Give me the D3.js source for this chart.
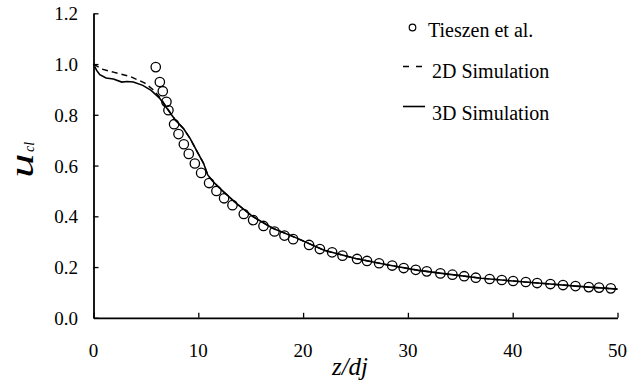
<!DOCTYPE html>
<html>
<head>
<meta charset="utf-8">
<script src="https://cdn.jsdelivr.net/npm/d3@7"></script>
<style>
  html, body { margin: 0; padding: 0; background: #fff; }
  #chart text { font-family: 'Liberation Serif', Tinos, 'Times New Roman', Times, FreeSerif, serif !important; }
</style>
</head>
<body>
<svg id="chart" width="630" height="387"></svg>
<script>
// Experimental data (Tieszen et al.)
const expZ = [5.94, 6.33, 6.61, 6.96, 7.15, 7.69, 8.11, 8.62, 9.09, 9.67, 10.27, 11.03, 11.73, 12.46, 13.26,
  14.34, 15.23, 16.22, 17.27, 18.22, 19.05, 20.57, 21.6, 22.77, 23.76, 25.15, 26.1, 27.25, 28.5, 29.6,
  30.75, 31.8, 33.1, 34.25, 35.37, 36.48, 37.8, 38.96, 40.04, 41.25, 42.33, 43.6, 44.8, 45.99, 47.26, 48.24, 49.36];
const expU = [0.988, 0.929, 0.893, 0.851, 0.818, 0.763, 0.724, 0.684, 0.646, 0.608, 0.571, 0.531, 0.500, 0.471, 0.444,
  0.409, 0.385, 0.362, 0.340, 0.324, 0.310, 0.287, 0.271, 0.258, 0.245, 0.232, 0.224, 0.215, 0.206, 0.196,
  0.189, 0.183, 0.175, 0.170, 0.164, 0.158, 0.153, 0.149, 0.145, 0.141, 0.137, 0.133, 0.129, 0.125, 0.121, 0.119, 0.116];

// 2D simulation
const sim2dZ = [0, 0.8, 1.9, 3.5, 4.9, 5.7, 6.4, 7.0, 7.8, 8.6, 9.2, 9.8, 10.5, 10.9, 11.4, 12.4, 13.6, 15.2, 17.1, 19.4,
  22, 25, 28, 31, 34, 37, 40, 43, 46, 50];
const sim2dU = [1.0, 0.980, 0.968, 0.951, 0.925, 0.899, 0.866, 0.828, 0.780, 0.745, 0.708, 0.662, 0.609, 0.563, 0.537,
  0.497, 0.452, 0.399, 0.353, 0.314, 0.266, 0.234, 0.209, 0.187, 0.171, 0.156, 0.145, 0.135, 0.125, 0.113];

// 3D simulation
const sim3dZ = [0, 0.3, 0.6, 1.2, 1.9, 2.7, 3.2, 3.8, 4.7, 5.5, 6.3, 7.0, 7.8, 8.6, 9.2, 9.8, 10.5, 10.9, 11.4, 12.4,
  13.6, 15.2, 17.1, 19.4, 22, 25, 28, 31, 34, 37, 40, 43, 46, 50];
const sim3dU = [1.0, 0.975, 0.958, 0.945, 0.941, 0.929, 0.931, 0.929, 0.916, 0.896, 0.866, 0.826, 0.780, 0.745, 0.708,
  0.662, 0.609, 0.563, 0.537, 0.497, 0.452, 0.399, 0.353, 0.314, 0.266, 0.234, 0.209, 0.187, 0.171, 0.156, 0.145,
  0.135, 0.125, 0.113];

const xTicks = [0, 10, 20, 30, 40, 50];
const yTicks = [0, 0.2, 0.4, 0.6, 0.8, 1.0, 1.2];

const svg = d3.select('#chart');
svg.append('rect').attr('width', 630).attr('height', 387).attr('fill', '#fff');

const x = d3.scaleLinear().domain([0, 50]).range([93.5, 617.5]);
const y = d3.scaleLinear().domain([0, 1.2]).range([317.8, 13.3]);

// axes (ticks pointing inward)
const xAxis = svg.append('g')
  .attr('transform', `translate(0,${y(0)})`)
  .call(d3.axisTop(x).tickValues(xTicks).tickSize(5).tickSizeOuter(0).tickFormat(''));
const yAxis = svg.append('g')
  .attr('transform', `translate(${x(0)},0)`)
  .call(d3.axisRight(y).tickValues(yTicks).tickSize(5).tickSizeOuter(0).tickFormat(''));
[xAxis, yAxis].forEach(g => {
  g.select('.domain').attr('stroke', '#000').attr('stroke-width', 1.8);
  g.selectAll('.tick line').attr('stroke', '#000').attr('stroke-width', 1.3);
});

svg.append('g').selectAll('text').data(xTicks).join('text')
  .attr('x', d => x(d)).attr('y', 357)
  .attr('text-anchor', 'middle').attr('font-size', 19)
  .text(d => d);
svg.append('g').selectAll('text').data(yTicks).join('text')
  .attr('x', 78).attr('y', d => y(d) + 7)
  .attr('text-anchor', 'end').attr('font-size', 19)
  .text(d => d.toFixed(1));

// axis titles
svg.append('text')
  .attr('x', 350).attr('y', 375)
  .attr('text-anchor', 'middle').attr('font-size', 25).attr('font-style', 'italic')
  .text('z/dj');
const yt = svg.append('g').attr('transform', 'translate(33,178) rotate(-90)');
yt.append('text').attr('transform', 'scale(1.45,1)')
  .attr('font-size', 34).attr('font-style', 'italic').text('u');
yt.append('text').attr('x', 26).attr('y', 1)
  .attr('font-size', 14).attr('font-style', 'italic').text('cl');

// simulations
const line = d3.line().x(d => x(d[0])).y(d => y(d[1]));
svg.append('path')
  .datum(d3.zip(sim2dZ, sim2dU))
  .attr('d', line).attr('fill', 'none').attr('stroke', '#000')
  .attr('stroke-width', 1.4).attr('stroke-dasharray', '6,4');
svg.append('path')
  .datum(d3.zip(sim3dZ, sim3dU))
  .attr('d', line).attr('fill', 'none').attr('stroke', '#000')
  .attr('stroke-width', 1.6);

// experiment
svg.append('g').selectAll('circle').data(d3.zip(expZ, expU)).join('circle')
  .attr('cx', d => x(d[0])).attr('cy', d => y(d[1])).attr('r', 4.7)
  .attr('fill', 'none').attr('stroke', '#000').attr('stroke-width', 1.3);

// legend
const lg = svg.append('g');
lg.append('circle').attr('cx', 412.5).attr('cy', 27.5).attr('r', 3.3)
  .attr('fill', 'none').attr('stroke', '#000').attr('stroke-width', 1.2);
lg.append('line').attr('x1', 403).attr('x2', 423).attr('y1', 66.5).attr('y2', 66.5)
  .attr('stroke', '#000').attr('stroke-width', 1.4).attr('stroke-dasharray', '6,7');
lg.append('line').attr('x1', 403).attr('x2', 425).attr('y1', 106.5).attr('y2', 106.5)
  .attr('stroke', '#000').attr('stroke-width', 1.6);
const legendText = ['Tieszen et al.', '2D Simulation', '3D Simulation'];
const legendX = [428, 432, 432];
const legendY = [36.7, 78.3, 120];
lg.selectAll('text').data(legendText).join('text')
  .attr('x', (d, i) => legendX[i]).attr('y', (d, i) => legendY[i])
  .attr('font-size', 20).text(d => d);
</script>
</body>
</html>
